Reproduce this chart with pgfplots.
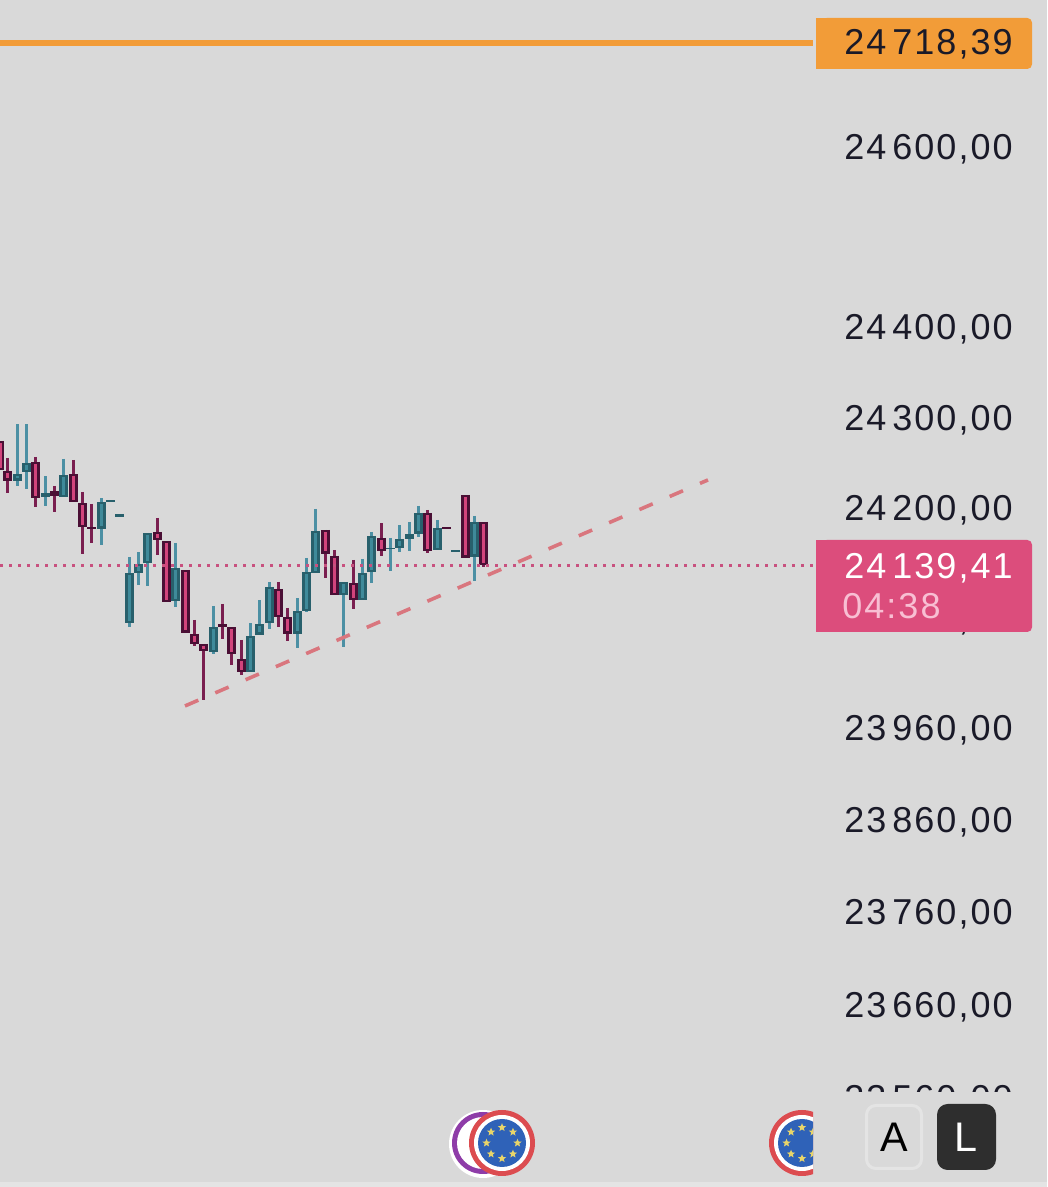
\documentclass[border=0pt]{standalone}
\usepackage{fontspec}
\usepackage{pgfplots}
\pgfplotsset{compat=1.18}
\usetikzlibrary{shapes.geometric}
\setmainfont{Liberation Sans}
\newfontfamily\lab[LetterSpace=5.7]{Liberation Sans}
\definecolor{bgc}{HTML}{D9D9D9}
\definecolor{band}{HTML}{E4E4E4}
\definecolor{orangec}{HTML}{F29C38}
\definecolor{pinkc}{HTML}{DC4D7C}
\definecolor{pinkt}{HTML}{F8BFD3}
\definecolor{ink}{HTML}{1A1A28}
\definecolor{rout}{HTML}{4A0F35}
\definecolor{rfill}{HTML}{D2447C}
\definecolor{rwick}{HTML}{7A1F50}
\definecolor{tout}{HTML}{28606C}
\definecolor{tfill}{HTML}{3F8A9A}
\definecolor{twick}{HTML}{4C90A4}
\definecolor{trend}{HTML}{D9767E}
\definecolor{dotc}{HTML}{C8517F}
\definecolor{purp}{HTML}{8E3CA8}
\definecolor{redr}{HTML}{DC4C50}
\definecolor{euro}{HTML}{2F62B8}
\definecolor{stars}{HTML}{E8D56A}
\newcommand\euicon[1]{%
  \fill[redr] (#1,1143) circle (33);
  \fill[white] (#1,1143) circle (28);
  \fill[euro] (#1,1143) circle (24);
  \foreach \a in {0,45,...,315}
    \node[star,star points=5,star point ratio=2.3,fill=stars,minimum size=6.5pt,inner sep=0pt] at ([shift={(\a:15.5)}]#1,1143) {};
}
\begin{document}
\begin{tikzpicture}
\useasboundingbox (0,0) rectangle (785.25pt,890.25pt);
\begin{axis}[
  at={(0,0)},anchor=south west,
  scale only axis,width=785.25pt,height=890.25pt,
  xmin=0,xmax=1047,ymin=23455.8,ymax=24756.7,
  unbounded coords=jump,
  axis background/.style={fill=bgc},
  axis line style={draw=none},
  xtick=\empty,
  ytick pos=right,yticklabel pos=right,
  % the reference's price scale is logarithmic; tick positions are those of its labels on this linear axis
  ytick={23553.3,23655.3,23757.2,23858.0,23958.8,24079.4,24200.0,24298.6,24398.3,24595.6},
  yticklabels={{23\,560,00},{23\,660,00},{23\,760,00},{23\,860,00},{23\,960,00},{24\,080,00},{24\,200,00},{24\,300,00},{24\,400,00},{24\,600,00}},
  major tick length=0pt,minor tick length=0pt,
  yticklabel style={anchor=east,inner sep=0pt,xshift=-25.5pt,yshift=-1.5pt,font=\fontsize{27pt}{27pt}\lab,text=ink},
]
% red wicks
\addplot[rwick,line width=2.25pt] coordinates {
(7.3,24254.8)(7.3,24216.4)(0,nan) (35.7,24255.9)(35.7,24201.1)(0,nan) (54.3,24224.1)(54.3,24195.6)(0,nan)
(73.3,24252.6)(73.3,24206.5)(0,nan) (82.3,24217.5)(82.3,24149.6)(0,nan) (91.3,24204.4)(91.3,24161.6)(0,nan)
(157.3,24189.0)(157.3,24148.5)(0,nan) (194.3,24077.2)(194.3,24048.7)(0,nan) (203.3,24050.9)(203.3,23989.5)(0,nan)
(222.3,24094.8)(222.3,24056.4)(0,nan) (231.3,24069.5)(231.3,24027.9)(0,nan) (241.3,24055.3)(241.3,24016.9)(0,nan)
(278.3,24118.9)(278.3,24069.5)(0,nan) (287.3,24090.4)(287.3,24054.2)(0,nan) (325.3,24175.9)(325.3,24123.2)(0,nan)
(334.3,24153.9)(334.3,24104.6)(0,nan) (353.3,24143.0)(353.3,24089.3)(0,nan) (381.3,24183.5)(381.3,24147.4)(0,nan)
(427.3,24197.8)(427.3,24150.6)(0,nan) (483.3,24184.6)(483.3,24135.3)
};
% teal wicks
\addplot[twick,line width=2.25pt] coordinates {
(17.3,24292.0)(17.3,24224.1)(0,nan) (26.7,24292.0)(26.7,24220.8)(0,nan) (45.3,24235.0)(45.3,24202.2)(0,nan)
(63.3,24253.7)(63.3,24212.0)(0,nan) (101.3,24210.9)(101.3,24159.4)(0,nan) (129.3,24146.3)(129.3,24069.5)(0,nan)
(138.3,24151.7)(138.3,24115.6)(0,nan) (147.7,24172.6)(147.7,24114.5)(0,nan) (175.3,24161.6)(175.3,24091.5)(0,nan)
(213.3,24092.6)(213.3,24039.9)(0,nan) (250.3,24073.9)(250.3,24020.2)(0,nan) (259.3,24099.1)(259.3,24060.8)(0,nan)
(269.3,24118.9)(269.3,24067.3)(0,nan) (297.3,24101.3)(297.3,24046.5)(0,nan) (306.3,24145.2)(306.3,24086.0)(0,nan)
(315.3,24198.9)(315.3,24128.7)(0,nan) (343.3,24118.9)(343.3,24047.6)(0,nan) (362.3,24144.1)(362.3,24099.1)(0,nan)
(371.3,24173.7)(371.3,24117.8)(0,nan) (390.3,24167.1)(390.3,24130.9)(0,nan) (399.3,24181.3)(399.3,24151.7)(0,nan)
(409.3,24184.6)(409.3,24152.8)(0,nan) (418.3,24202.2)(418.3,24168.2)(0,nan) (437.3,24186.8)(437.3,24153.9)(0,nan)
(474.3,24191.2)(474.3,24120.0)
};
% teal bodies
\addplot[tout,line width=6.4pt] coordinates {
(17.3,24237.2)(17.3,24229.6)(0,nan) (26.7,24249.3)(26.7,24239.4)(0,nan) (45.3,24216.4)(45.3,24212.0)(0,nan)
(63.3,24236.1)(63.3,24212.0)(0,nan) (101.3,24206.5)(101.3,24177.0)(0,nan) (110.7,24208.7)(110.7,24206.5)(0,nan)
(119.3,24193.4)(119.3,24190.1)(0,nan) (129.3,24128.7)(129.3,24073.9)(0,nan) (138.3,24138.6)(138.3,24128.7)(0,nan)
(147.7,24172.6)(147.7,24139.7)(0,nan) (175.3,24134.2)(175.3,24098.0)(0,nan) (213.3,24069.5)(213.3,24042.1)(0,nan)
(250.3,24059.7)(250.3,24020.2)(0,nan) (259.3,24072.8)(259.3,24060.8)(0,nan) (269.3,24113.4)(269.3,24073.9)(0,nan)
(297.3,24087.1)(297.3,24061.9)(0,nan) (306.3,24129.8)(306.3,24087.1)(0,nan) (315.3,24174.8)(315.3,24128.7)(0,nan)
(343.3,24118.9)(343.3,24104.6)(0,nan) (362.3,24128.7)(362.3,24099.1)(0,nan) (371.3,24169.3)(371.3,24129.8)(0,nan)
(390.3,24156.1)(390.3,24155.0)(0,nan) (399.3,24166.0)(399.3,24156.1)(0,nan) (409.3,24171.5)(409.3,24166.0)(0,nan)
(418.3,24194.5)(418.3,24171.5)(0,nan) (437.3,24178.0)(437.3,24153.9)(0,nan) (455.3,24153.9)(455.3,24151.7)(0,nan)
(474.3,24184.6)(474.3,24146.3)
};
\addplot[tfill,line width=2.25pt] coordinates {
(17.3,24234.5)(17.3,24232.3)(0,nan) (26.7,24246.6)(26.7,24242.1)(0,nan) (63.3,24233.4)(63.3,24214.7)(0,nan)
(101.3,24203.8)(101.3,24179.7)(0,nan) (129.3,24126.0)(129.3,24076.6)(0,nan) (138.3,24135.9)(138.3,24131.4)(0,nan)
(147.7,24169.9)(147.7,24142.4)(0,nan) (175.3,24131.5)(175.3,24100.7)(0,nan) (213.3,24066.8)(213.3,24044.8)(0,nan)
(250.3,24057.0)(250.3,24022.9)(0,nan) (259.3,24070.1)(259.3,24063.5)(0,nan) (269.3,24110.7)(269.3,24076.6)(0,nan)
(297.3,24084.4)(297.3,24064.6)(0,nan) (306.3,24127.1)(306.3,24089.8)(0,nan) (315.3,24172.1)(315.3,24131.4)(0,nan)
(343.3,24116.2)(343.3,24107.3)(0,nan) (362.3,24126.0)(362.3,24101.8)(0,nan) (371.3,24166.6)(371.3,24132.5)(0,nan)
(399.3,24163.3)(399.3,24158.8)(0,nan) (418.3,24191.8)(418.3,24174.2)(0,nan) (437.3,24175.3)(437.3,24156.6)(0,nan)
(474.3,24181.9)(474.3,24149.0)
};
% red bodies
\addplot[rout,line width=6.4pt] coordinates {
(0,24273.4)(0,24241.6)(0,nan) (7.3,24240.5)(7.3,24229.6)(0,nan) (35.7,24250.4)(35.7,24210.9)(0,nan)
(54.3,24218.6)(54.3,24213.1)(0,nan) (73.3,24237.2)(73.3,24206.5)(0,nan) (82.3,24205.4)(82.3,24179.1)(0,nan)
(91.3,24179.1)(91.3,24177.0)(0,nan) (157.3,24173.7)(157.3,24164.9)(0,nan) (166.3,24163.8)(166.3,24096.9)(0,nan)
(185.3,24132.0)(185.3,24063.0)(0,nan) (194.3,24061.9)(194.3,24050.9)(0,nan) (203.3,24050.9)(203.3,24043.2)(0,nan)
(222.3,24072.8)(222.3,24069.5)(0,nan) (231.3,24069.5)(231.3,24039.9)(0,nan) (241.3,24034.5)(241.3,24020.2)(0,nan)
(278.3,24111.2)(278.3,24080.5)(0,nan) (287.3,24080.5)(287.3,24061.9)(0,nan) (325.3,24175.9)(325.3,24149.6)(0,nan)
(334.3,24147.4)(334.3,24104.6)(0,nan) (353.3,24117.8)(353.3,24099.1)(0,nan) (381.3,24167.1)(381.3,24152.8)(0,nan)
(427.3,24194.5)(427.3,24152.8)(0,nan) (446.3,24179.1)(446.3,24177.0)(0,nan) (465.3,24214.2)(465.3,24145.2)(0,nan)
(483.3,24184.6)(483.3,24137.5)
};
\addplot[rfill,line width=2.25pt] coordinates {
(0,24270.7)(0,24244.3)(0,nan) (7.3,24237.8)(7.3,24232.3)(0,nan) (35.7,24247.7)(35.7,24213.6)(0,nan)
(73.3,24234.5)(73.3,24209.2)(0,nan) (82.3,24202.7)(82.3,24181.8)(0,nan) (157.3,24171.0)(157.3,24167.6)(0,nan)
(166.3,24161.1)(166.3,24099.6)(0,nan) (185.3,24129.3)(185.3,24065.7)(0,nan) (194.3,24059.2)(194.3,24053.6)(0,nan)
(203.3,24048.2)(203.3,24045.9)(0,nan) (231.3,24066.8)(231.3,24042.6)(0,nan) (241.3,24031.8)(241.3,24022.9)(0,nan)
(278.3,24108.5)(278.3,24083.2)(0,nan) (287.3,24077.8)(287.3,24064.6)(0,nan) (325.3,24173.2)(325.3,24152.3)(0,nan)
(334.3,24144.7)(334.3,24107.3)(0,nan) (353.3,24115.1)(353.3,24101.8)(0,nan) (381.3,24164.4)(381.3,24155.5)(0,nan)
(427.3,24191.8)(427.3,24155.5)(0,nan) (465.3,24211.5)(465.3,24147.9)(0,nan) (483.3,24181.9)(483.3,24140.2)
};
% current price, dotted
\addplot[dotc,line width=2.25pt,dash pattern=on 2.25pt off 4.5pt] coordinates {(0,24136.4)(813,24136.4)};
% rising trend line
\addplot[trend,line width=2.7pt,dash pattern=on 10.9pt off 13.85pt] coordinates {(185,23983.0)(708,24230.7)};
% upper level
\addplot[orangec,line width=4.2pt] coordinates {(0,24709.6)(813,24709.6)};
\end{axis}
\begin{scope}[x=0.75pt,y=-0.75pt,shift={(0,890.25pt)}]
% cover that cuts off the lowest price label
\fill[bgc] (816,1092) rectangle (1047,1187);
\fill[band] (0,1182.5) rectangle (1047,1187);
% orange tag
\fill[orangec,rounded corners=3.5pt] (822,18) rectangle (1032,69);
\fill[orangec] (816,18) rectangle (830,69);
\node[anchor=east,inner sep=0pt,text=ink,font=\fontsize{27pt}{27pt}\lab] at (1013,44) {24\,718,39};
% pink tag
\fill[pinkc,rounded corners=3.5pt] (822,540) rectangle (1032,632);
\fill[pinkc] (816,540) rectangle (830,632);
\node[anchor=east,inner sep=0pt,text=white,font=\fontsize{27pt}{27pt}\lab] at (1013,568) {24\,139,41};
\node[anchor=west,inner sep=0pt,text=pinkt,font=\fontsize{27pt}{27pt}\lab] at (842,606) {04:38};
% event icons
\fill[white] (483,1144) circle (34);
\fill[purp] (483,1143) circle (31);
\fill[white] (483,1143) circle (26);
\euicon{502}
\begin{scope}
\clip (740,1100) rectangle (813,1182);
\euicon{802}
\end{scope}
% buttons
\draw[band,line width=2.25pt,rounded corners=7pt] (866.5,1105.5) rectangle (921.5,1168.5);
\node[text=black,font=\fontsize{31pt}{31pt}\selectfont,inner sep=0pt] at (894,1137) {A};
\fill[black!82,rounded corners=8pt] (937,1104) rectangle (996,1170);
\node[text=white,font=\fontsize{31pt}{31pt}\selectfont,inner sep=0pt] at (966,1137) {L};
\end{scope}
\end{tikzpicture}
\end{document}
